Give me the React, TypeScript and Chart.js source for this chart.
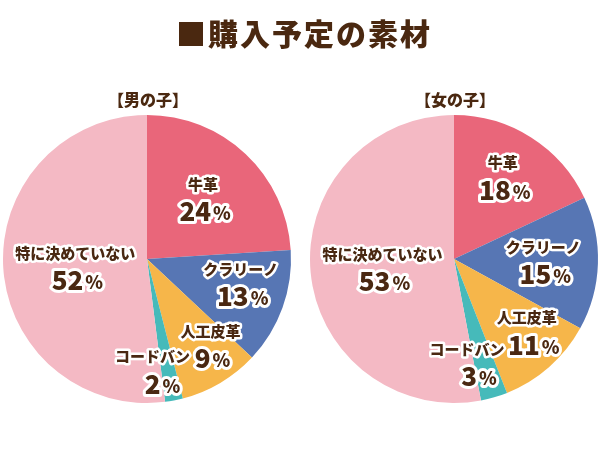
import React, { useEffect, useRef } from "react";
import { Chart, registerables } from "chart.js";

Chart.register(...registerables);

const title = "■購入予定の素材";
const categories = ["牛革", "クラリーノ", "人工皮革", "コードバン", "特に決めていない"];
const boyTitle = "【男の子】";
const girlTitle = "【女の子】";
const boyValues = [24, 13, 9, 2, 52];
const girlValues = [18, 15, 11, 3, 53];

const sliceColors = ["#e9667a", "#5776b4", "#f6b64a", "#46baba", "#f4b9c4"];
const textColor = "#4a2812";
const FONT = '"Noto Sans CJK JP", "Noto Sans", sans-serif';

// label placement: radial fraction, angle shift (degrees), percent x-offset per slice
const boyLabelRadius = [0.58, 0.67, 0.74, 0.77, 0.5];
const boyLabelShift = [-1, -6, -6, 8, -2];
const boyPctDx = [0, 0, 0, 8, 0];
const girlLabelRadius = [0.67, 0.62, 0.71, 0.72, 0.5];
const girlLabelShift = [-2, -1, -4, 9, -1];
const girlPctDx = [0, 0, 5, 10, 0];

function makeLabelPlugin(radius: number[], shift: number[], pctDx: number[]) {
  return {
    id: "sliceLabels",
    afterDatasetsDraw(chart: any) {
      const ctx = chart.ctx;
      const meta = chart.getDatasetMeta(0);
      const values = chart.data.datasets[0].data as number[];
      const labels = chart.data.labels as string[];
      meta.data.forEach((arc: any, i: number) => {
        const p = arc.getProps(["x", "y", "startAngle", "endAngle", "outerRadius"], true);
        const mid = (p.startAngle + p.endAngle) / 2 + (shift[i] * Math.PI) / 180;
        const r = p.outerRadius * radius[i];
        const cx = p.x + Math.cos(mid) * r;
        const cy = p.y + Math.sin(mid) * r;
        ctx.save();
        ctx.textBaseline = "middle";
        ctx.lineJoin = "round";
        ctx.strokeStyle = "#ffffff";
        ctx.fillStyle = textColor;
        // name
        ctx.font = `900 15px ${FONT}`;
        ctx.textAlign = "center";
        ctx.lineWidth = 5;
        ctx.strokeText(labels[i], cx, cy - 13);
        ctx.fillText(labels[i], cx, cy - 13);
        // percent
        const num = String(values[i]);
        ctx.font = `900 26px ${FONT}`;
        const wNum = ctx.measureText(num).width;
        ctx.font = `900 18px ${FONT}`;
        const wPct = ctx.measureText("%").width;
        const total = wNum + 2 + wPct;
        const x0 = cx - total / 2 + 2 + pctDx[i];
        ctx.textAlign = "left";
        ctx.font = `900 26px ${FONT}`;
        ctx.lineWidth = 6;
        ctx.strokeText(num, x0, cy + 14);
        ctx.fillText(num, x0, cy + 14);
        ctx.font = `900 18px ${FONT}`;
        ctx.strokeText("%", x0 + wNum + 2, cy + 16);
        ctx.fillText("%", x0 + wNum + 2, cy + 16);
        ctx.restore();
      });
    },
  };
}

function PieChart(props: {
  values: number[];
  radius: number[];
  shift: number[];
  pctDx: number[];
  padding: { left: number; right: number; top: number; bottom: number };
}) {
  const ref = useRef<HTMLCanvasElement | null>(null);
  useEffect(() => {
    if (!ref.current) return;
    const chart = new Chart(ref.current, {
      type: "pie",
      data: {
        labels: categories,
        datasets: [
          {
            data: props.values,
            backgroundColor: sliceColors,
            borderWidth: 0,
          },
        ],
      },
      options: {
        responsive: false,
        animation: false,
        devicePixelRatio: 1,
        layout: { padding: props.padding },
        plugins: {
          legend: { display: false },
          tooltip: { enabled: false },
          title: { display: false },
        },
      },
      plugins: [makeLabelPlugin(props.radius, props.shift, props.pctDx)],
    });
    return () => chart.destroy();
  }, []);
  return <canvas ref={ref} width={300} height={450} />;
}

const headStyle = {
  position: "absolute" as const,
  top: 88,
  width: 200,
  textAlign: "center" as const,
  font: `900 16px ${FONT}`,
  lineHeight: "22px",
  color: "#4a2810",
};

export default function App() {
  return (
    <div
      style={{
        position: "absolute",
        left: 0,
        top: 0,
        width: 600,
        height: 450,
        background: "#ffffff",
        overflow: "hidden",
      }}
    >
      <div style={{ position: "absolute", left: 0, top: 0 }}>
        <PieChart
          values={boyValues}
          radius={boyLabelRadius}
          shift={boyLabelShift}
          pctDx={boyPctDx}
          padding={{ left: 3, right: 9, top: 115, bottom: 47 }}
        />
      </div>
      <div style={{ position: "absolute", left: 300, top: 0 }}>
        <PieChart
          values={girlValues}
          radius={girlLabelRadius}
          shift={girlLabelShift}
          pctDx={girlPctDx}
          padding={{ left: 10, right: 2, top: 115, bottom: 47 }}
        />
      </div>
      <div
        style={{
          position: "absolute",
          left: 4,
          top: 14,
          width: 600,
          textAlign: "center",
          font: `900 30px ${FONT}`,
          letterSpacing: 2,
          lineHeight: "36px",
          color: "#4a2810",
        }}
      >
        {title}
      </div>
      <div style={{ ...headStyle, left: 48 }}>{boyTitle}</div>
      <div style={{ ...headStyle, left: 355 }}>{girlTitle}</div>
    </div>
  );
}
